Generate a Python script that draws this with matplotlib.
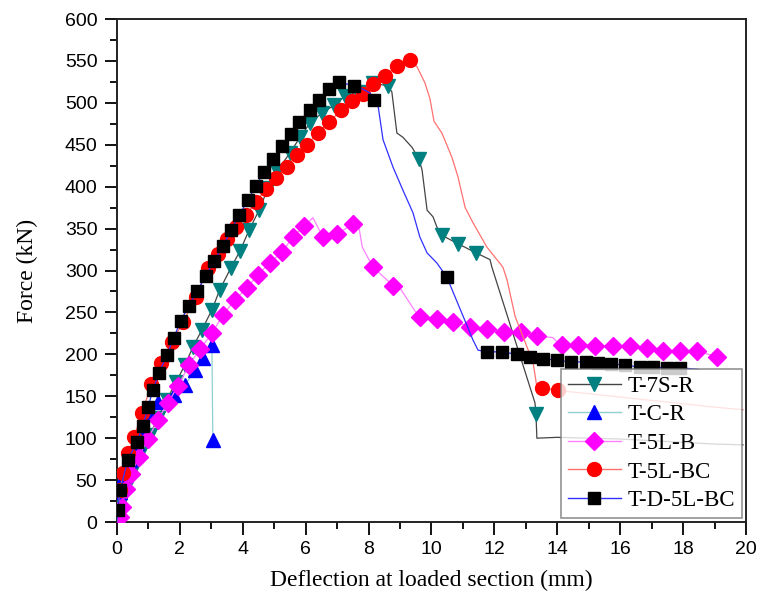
import numpy as np
import matplotlib
matplotlib.use("Agg")
import matplotlib.pyplot as plt
from matplotlib.lines import Line2D
from matplotlib.ticker import MultipleLocator

# series names (legend order)
names = ["T-7S-R", "T-C-R", "T-5L-B", "T-5L-BC", "T-D-5L-BC"]

# T-7S-R : full curve and marker points
t7s_x = [0, 0.1, 0.29, 0.51, 0.76, 1.05, 1.30, 1.59, 1.88, 2.16, 2.42, 2.70, 3.02, 3.27, 3.62,
         3.91, 4.20, 4.52, 4.80, 5.09, 5.50, 5.82, 6.14, 6.52, 6.90, 7.25, 7.66, 8.14, 8.62,
         8.74, 8.90, 9.09, 9.38, 9.60, 9.70, 9.86, 10.05, 10.17, 10.33, 10.84, 11.42, 11.86,
         11.92, 13.29, 13.32, 13.35, 13.99, 15.0, 16.0, 17.0, 18.0, 19.0, 19.9]
t7s_f = [0, 20, 41, 62, 84, 104, 124, 146, 167, 187, 209, 229, 253, 277, 303,
         323, 348, 372, 398, 419, 440, 459, 476, 488, 497, 508, 513, 524, 520,
         513, 464, 459, 447, 433, 420, 372, 364, 352, 342, 332, 321, 313,
         304, 142, 129, 100, 101, 100, 99, 97, 95, 93, 92]
t7s_mx = [0.1, 0.29, 0.51, 0.76, 1.05, 1.30, 1.59, 1.88, 2.16, 2.42, 2.70, 3.02, 3.27, 3.62,
          3.91, 4.20, 4.52, 4.80, 5.09, 5.50, 5.82, 6.14, 6.52, 6.90, 7.25, 7.66, 8.14, 8.62,
          9.60, 10.33, 10.84, 11.42, 13.32]
t7s_mf = [20, 41, 62, 84, 104, 124, 146, 167, 187, 209, 229, 253, 277, 303,
          323, 348, 372, 398, 419, 440, 459, 476, 488, 497, 508, 513, 524, 520,
          433, 342, 332, 321, 129]

# T-C-R
tcr_x = [0, 0.1, 0.19, 0.41, 0.64, 0.83, 0.99, 1.30, 1.81, 2.16, 2.48, 2.73, 3.02, 3.05]
tcr_f = [0, 36, 54, 74, 94, 112, 131, 143, 151, 163, 181, 196, 211, 98]
tcr_mx = tcr_x[1:]
tcr_mf = tcr_f[1:]

# T-5L-B
t5b_x = [0, 0.1, 0.16, 0.29, 0.45, 0.70, 0.99, 1.30, 1.62, 1.94, 2.29, 2.64, 3.02, 3.37, 3.75,
         4.13, 4.48, 4.86, 5.25, 5.60, 5.95, 6.23, 6.55, 7.0, 7.5, 7.7, 7.8, 8.14, 8.78, 9.0,
         9.47, 9.63, 10.17, 10.68, 11.22, 11.76, 12.31, 12.85, 13.35, 13.86, 14.09, 14.66,
         15.20, 15.77, 16.31, 16.85, 17.36, 17.90, 18.44, 19.08]
t5b_f = [0, 6, 18, 39, 57, 78, 99, 122, 142, 162, 187, 206, 225, 247, 265,
         279, 295, 309, 322, 340, 353, 363, 340, 344, 355, 350, 328, 304, 282, 279,
         252, 245, 242, 239, 233, 230, 227, 227, 222, 220, 211, 211,
         210, 210, 210, 208, 204, 204, 204, 197]
t5b_mx = [0.1, 0.16, 0.29, 0.45, 0.70, 0.99, 1.30, 1.62, 1.94, 2.29, 2.64, 3.02, 3.37, 3.75,
          4.13, 4.48, 4.86, 5.25, 5.60, 5.95, 6.55, 7.0, 7.5, 8.14, 8.78, 9.63, 10.17,
          10.68, 11.22, 11.76, 12.31, 12.85, 13.35, 14.15, 14.66, 15.20, 15.77, 16.31,
          16.85, 17.36, 17.90, 18.44, 19.08]
t5b_mf = [6, 18, 39, 57, 78, 99, 122, 142, 162, 187, 206, 225, 247, 265,
          279, 295, 309, 322, 340, 353, 340, 344, 355, 304, 282, 245, 242,
          239, 233, 230, 227, 227, 222, 211, 211, 210, 210, 210,
          208, 204, 204, 204, 197]

# T-5L-BC
t5bc_x = [0, 0.1, 0.19, 0.35, 0.55, 0.8, 1.1, 1.4, 1.75, 2.1, 2.5, 2.89, 3.2, 3.5, 3.8, 4.1,
          4.42, 4.74, 5.06, 5.41, 5.72, 6.04, 6.39, 6.74, 7.12, 7.47, 7.82, 8.14, 8.52, 8.90,
          9.32, 9.54, 9.79, 9.95, 10.08, 10.33, 10.65, 10.84, 11.07, 11.32, 11.76, 12.27,
          12.40, 12.66, 13.23, 13.35, 13.51, 14.02, 15.0, 16.0, 17.0, 18.0, 19.0, 19.9]
t5bc_f = [0, 38, 58, 82, 102, 130, 165, 190, 215, 238, 268, 303, 320, 338, 352, 366,
          382, 397, 410, 424, 438, 450, 464, 477, 491, 502, 511, 522, 532, 544,
          551, 543, 524, 505, 478, 464, 435, 412, 375, 357, 328, 304,
          289, 245, 190, 161, 160, 157, 153, 149, 145, 141, 137, 134]
t5bc_mx = [0.1, 0.19, 0.35, 0.55, 0.8, 1.1, 1.4, 1.75, 2.1, 2.5, 2.89, 3.2, 3.5, 3.8, 4.1,
           4.42, 4.74, 5.06, 5.41, 5.72, 6.04, 6.39, 6.74, 7.12, 7.47, 7.82, 8.14, 8.52, 8.90,
           9.32, 13.51, 14.02]
t5bc_mf = [38, 58, 82, 102, 130, 165, 190, 215, 238, 268, 303, 320, 338, 352, 366,
           382, 397, 410, 424, 438, 450, 464, 477, 491, 502, 511, 522, 532, 544,
           551, 160, 157]

# T-D-5L-BC
td_x = [0, 0.03, 0.1, 0.35, 0.64, 0.83, 0.99, 1.14, 1.34, 1.59, 1.81, 2.03, 2.29, 2.56, 2.83,
        3.08, 3.37, 3.63, 3.88, 4.17, 4.42, 4.67, 4.96, 5.25, 5.53, 5.79, 6.14, 6.42, 6.74,
        7.06, 7.54, 7.73, 8.04, 8.17, 8.30, 8.46, 8.78, 9.09, 9.41, 9.63, 9.86, 10.17, 10.49,
        11.32, 11.48, 11.76, 12.24, 12.72, 13.13, 13.55, 13.99, 14.44, 14.91, 15.29, 15.71,
        16.15, 16.63, 17.04, 17.49, 17.9, 18.5]
td_f = [0, 14, 38, 74, 96, 115, 137, 157, 178, 199, 220, 240, 258, 276, 294,
        311, 329, 348, 366, 384, 401, 417, 433, 449, 463, 477, 492, 504, 516,
        525, 520, 518, 512, 504, 497, 456, 423, 396, 369, 340, 321, 309, 292,
        217, 205, 203, 203, 200, 197, 195, 193, 191, 191, 190, 189,
        187, 185, 185, 184, 184, 182]
td_mx = [0.03, 0.1, 0.35, 0.64, 0.83, 0.99, 1.14, 1.34, 1.59, 1.81, 2.03, 2.29, 2.56, 2.83,
         3.08, 3.37, 3.63, 3.88, 4.17, 4.42, 4.67, 4.96, 5.25, 5.53, 5.79, 6.14, 6.42, 6.74,
         7.06, 7.54, 8.17, 10.49, 11.76, 12.24, 12.72, 13.13, 13.55, 13.99, 14.44, 14.91,
         15.29, 15.71, 16.15, 16.63, 17.04, 17.49, 17.9]
td_mf = [14, 38, 74, 96, 115, 137, 157, 178, 199, 220, 240, 258, 276, 294,
         311, 329, 348, 366, 384, 401, 417, 433, 449, 463, 477, 492, 504, 516,
         525, 520, 504, 292, 203, 203, 200, 197, 195, 193, 191, 191,
         190, 189, 187, 185, 185, 184, 184]

series = [
    (t7s_x, t7s_f, t7s_mx, t7s_mf, "#444444", "#008080", "v", 10),
    (tcr_x, tcr_f, tcr_mx, tcr_mf, "#8fd0d0", "#0000ff", "^", 10),
    (t5b_x, t5b_f, t5b_mx, t5b_mf, "#ff80ff", "#ff00ff", "D", 9),
    (t5bc_x, t5bc_f, t5bc_mx, t5bc_mf, "#ff7070", "#ff0000", "o", 10),
    (td_x, td_f, td_mx, td_mf, "#3030ff", "#000000", "s", 9),
]

fig = plt.figure(figsize=(7.59, 6.06), dpi=100)
ax = fig.add_axes([0.154, 0.1386, 0.829, 0.830])

handles = []
for i, (lx, lf, mx, mf, lc, mc, mk, ms) in enumerate(series):
    ax.plot(lx, lf, color=lc, lw=0.9, zorder=2 + i)
    ax.plot(mx, mf, ls="none", marker=mk, ms=ms, color=mc, mec=mc, zorder=3 + i)
    handles.append(Line2D([], [], color=lc, lw=1, marker=mk, ms=ms, mfc=mc, mec=mc))

ax.set_xlim(0, 20)
ax.set_ylim(0, 600)
ax.xaxis.set_major_locator(MultipleLocator(2))
ax.xaxis.set_minor_locator(MultipleLocator(1))
ax.yaxis.set_major_locator(MultipleLocator(50))
ax.yaxis.set_minor_locator(MultipleLocator(25))
ax.tick_params(which="major", length=9, width=1.3, direction="out", top=False, right=False,
               labelsize=14, pad=5)
ax.tick_params(which="minor", length=5, width=1.3, direction="out", top=False, right=False)
for lab in ax.get_xticklabels() + ax.get_yticklabels():
    lab.set_family("Liberation Sans")
for sp in ax.spines.values():
    sp.set_linewidth(1.4)
    sp.set_color("#222222")

ax.set_xlabel("Deflection at loaded section (mm)", family="Liberation Serif", fontsize=17, labelpad=8)
ax.set_ylabel("Force (kN)", family="Liberation Serif", fontsize=17, labelpad=19)

leg = ax.legend(handles, names, loc="lower right", bbox_to_anchor=(0.9936, 0.008),
                prop={"family": "Liberation Serif", "size": 16.5}, frameon=True, fancybox=False,
                edgecolor="#777777", handlelength=2.3, labelspacing=0.33, borderpad=0.3,
                handletextpad=0.3, borderaxespad=0)
leg.get_frame().set_linewidth(1.2)
leg.set_zorder(20)

fig.savefig("out.png", dpi=100)
